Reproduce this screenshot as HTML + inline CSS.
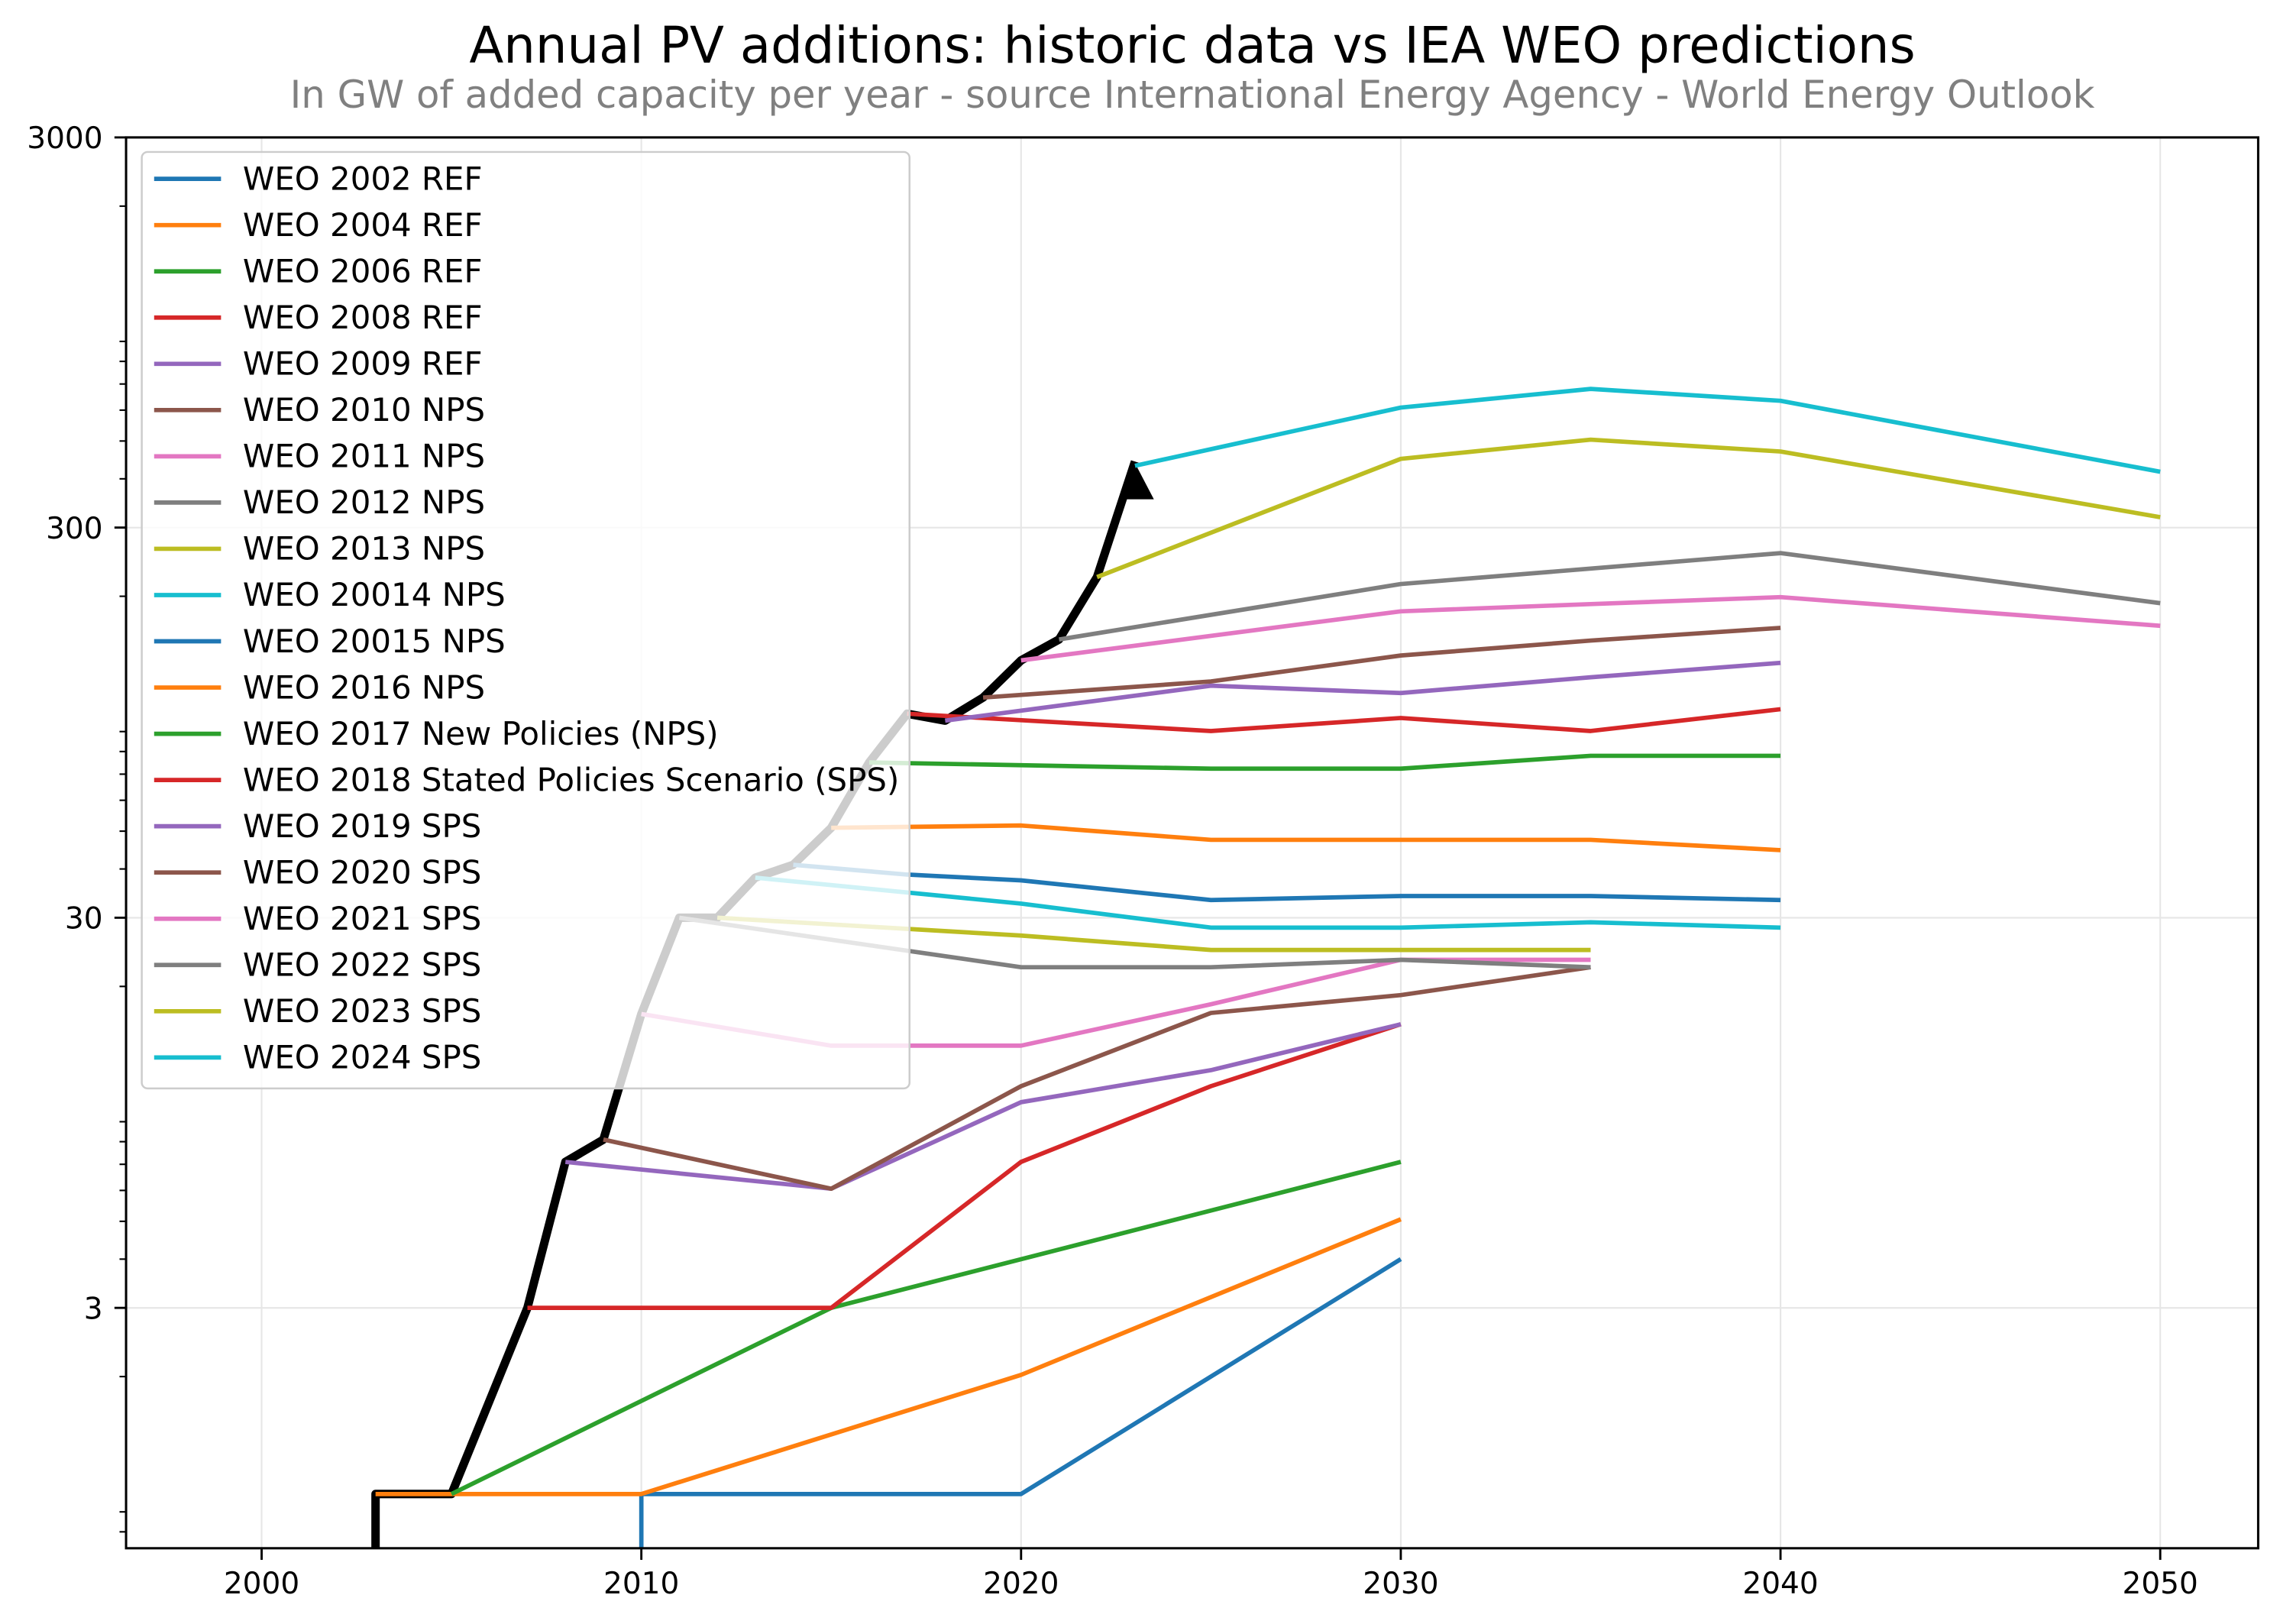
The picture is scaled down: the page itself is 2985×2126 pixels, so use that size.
<!DOCTYPE html>
<html><head><meta charset="utf-8"><style>
html,body{margin:0;padding:0;background:#fff;}
svg{display:block;font-family:"DejaVu Sans","Liberation Sans",sans-serif;}
</style></head><body>
<svg id="chart" width="2985" height="2126" viewBox="0 0 1568 1116.8" preserveAspectRatio="none" xmlns="http://www.w3.org/2000/svg">
<text x="820" y="43" text-anchor="middle" font-size="34.5" fill="#000">Annual PV additions: historic data vs IEA WEO predictions</text>
<text x="820" y="74" text-anchor="middle" font-size="26.1" fill="#808080">In GW of added capacity per year - source International Energy Agency - World Energy Outlook</text>
<g id="grid"></g><g id="series"></g><g id="legend"></g><g id="axes"></g>
</svg>
<script>
const NS="http://www.w3.org/2000/svg";
const tickYears=[2000,2010,2020,2030,2040,2050];
const tickValues=[3,30,300,3000];
const tickLabels=["3","30","300","3000"];
const historicYears=[2003,2003,2005,2007,2008,2009,2010,2011,2012,2013,2014,2015,2016,2017,2018,2019,2020,2021,2022,2023];
const historicValues=[0.7,1.0,1.0,3,7.1,8.1,17,30,30,38,41,51,75,100,96,110,137,155,224,443];
const seriesNames=["WEO 2002 REF","WEO 2004 REF","WEO 2006 REF","WEO 2008 REF","WEO 2009 REF","WEO 2010 NPS","WEO 2011 NPS","WEO 2012 NPS","WEO 2013 NPS","WEO 20014 NPS","WEO 20015 NPS","WEO 2016 NPS","WEO 2017 New Policies (NPS)","WEO 2018 Stated Policies Scenario (SPS)","WEO 2019 SPS","WEO 2020 SPS","WEO 2021 SPS","WEO 2022 SPS","WEO 2023 SPS","WEO 2024 SPS"];
const seriesYears=[
[2010,2010,2020,2030],
[2003,2010,2020,2030],
[2005,2015,2030],
[2007,2015,2020,2025,2030],
[2008,2015,2020,2025,2030],
[2009,2015,2020,2025,2030,2035],
[2010,2015,2020,2025,2030,2035],
[2011,2020,2025,2030,2035],
[2012,2020,2025,2030,2035],
[2013,2020,2025,2030,2035,2040],
[2014,2017,2020,2025,2030,2035,2040],
[2015,2020,2025,2030,2035,2040],
[2016,2025,2030,2035,2040],
[2017,2025,2030,2035,2040],
[2018,2025,2030,2035,2040],
[2019,2025,2030,2035,2040],
[2020,2030,2035,2040,2050],
[2021,2030,2040,2050],
[2022,2030,2035,2040,2050],
[2023,2030,2035,2040,2050]];
const seriesValues=[
[0.7,1,1,4.0],
[1,1,2.02,5.06],
[1,3,7.1],
[3,3,7.1,11.1,16],
[7.1,6.06,10.1,12.2,16],
[8.1,6.06,11.1,17.1,19,22.4],
[17,14.1,14.1,18,23.4,23.4],
[30,22.4,22.4,23.4,22.4],
[30,27,24.8,24.8,24.8],
[38,32.6,28.3,28.3,29.2,28.3],
[41,38.7,37.4,33.3,34.1,34.1,33.3],
[51,51.7,47.5,47.5,47.5,44.7],
[75,72.3,72.3,78,78],
[100,90.3,97.5,90.3,102.7],
[96,118,113,124,135],
[110,121,141,154,166],
[137,183,191,199,168],
[155,215,258,192],
[224,450,504,470,319],
[432,609,680,634,417]];
const minorMults=[2,4,5,6,7,8,9];
const colors=["#1f77b4","#ff7f0e","#2ca02c","#d62728","#9467bd","#8c564b","#e377c2","#7f7f7f","#bcbd22","#17becf"];
const L=86.7,R=1553,T=94.5,B=1064.7;
const x0=1996.43,x1=2052.58,yMax=3000,yMin=3000*Math.pow(10,-(B-T)/268.3);
function X(yr){return L+(yr-x0)/(x1-x0)*(R-L);}
function Y(v){v=Math.max(v,yMin);return T+(Math.log10(yMax)-Math.log10(v))/(Math.log10(yMax)-Math.log10(yMin))*(B-T);}
function el(tag,attrs,parent){const e=document.createElementNS(NS,tag);for(const k in attrs)e.setAttribute(k,attrs[k]);parent.appendChild(e);return e;}
const grid=document.getElementById('grid'),ser=document.getElementById('series'),leg=document.getElementById('legend'),ax=document.getElementById('axes');
const defs=el('defs',{},document.getElementById('chart'));
const cp=el('clipPath',{id:'plotclip'},defs);el('rect',{x:L,y:T,width:R-L,height:B-T},cp);
ser.setAttribute('clip-path','url(#plotclip)');
tickYears.forEach(t=>{const g=el('line',{x1:X(t),x2:X(t),y1:T,y2:B,stroke:'#e6e6e6','stroke-width':1.1},grid);

});
tickValues.forEach(v=>{const g=el('line',{x1:L,x2:R,y1:Y(v),y2:Y(v),stroke:'#e6e6e6','stroke-width':1.1},grid);

});
const hp=historicYears.map((y,i)=>X(y).toFixed(2)+','+Y(historicValues[i]).toFixed(2)).join(' ');
const hl=el('polyline',{points:hp,fill:'none',stroke:'#000','stroke-width':5.8,'stroke-linejoin':'round'},ser);


const hn=historicYears.length-1,ax2=X(historicYears[hn]),ay2=Y(historicValues[hn]);
const arrow=el('polygon',{points:`${ax2+1},${ay2+3} ${ax2-10},${ay2+26} ${ax2+13},${ay2+26}`,fill:'#000'},ser);


seriesYears.forEach((ys,i)=>{
const pts=ys.map((y,j)=>X(y).toFixed(2)+','+Y(seriesValues[i][j]).toFixed(2)).join(' ');
const p=el('polyline',{points:pts,fill:'none',stroke:colors[i%10],'stroke-width':3,'stroke-linejoin':'round'},ser);


});
const box=el('rect',{x:97.5,y:104.5,width:528,height:644,rx:4,fill:'#fff','fill-opacity':0.8,stroke:'#cccccc','stroke-width':1.3},leg);


seriesNames.forEach((n,i)=>{
const cy=123+i*31.8;
const g=el('g',{},leg);


el('line',{x1:106,x2:152,y1:cy,y2:cy,stroke:colors[i%10],'stroke-width':3},g);
const t=el('text',{x:167,y:cy+7.5,'font-size':'22',fill:'#000'},g);t.textContent=n;
});
const fr=el('rect',{x:L,y:T,width:R-L,height:B-T,fill:'none',stroke:'#000','stroke-width':1.6},ax);


tickYears.forEach((t,i)=>{
el('line',{x1:X(t),x2:X(t),y1:B,y2:B+8,stroke:'#000','stroke-width':1.5},ax);
const tx=el('text',{x:X(t),y:B+31,'text-anchor':'middle','font-size':'20.5',fill:'#000'},ax);


tx.textContent=String(t);
});
for(let d=-1;d<=3;d++){minorMults.forEach(m=>{const v=m*Math.pow(10,d);if(v<yMin||v>yMax)return;
el('line',{x1:L-4.5,x2:L,y1:Y(v),y2:Y(v),stroke:'#000','stroke-width':1.1},ax);});}
tickValues.forEach((v,i)=>{
el('line',{x1:L-8,x2:L,y1:Y(v),y2:Y(v),stroke:'#000','stroke-width':1.5},ax);
const tx=el('text',{x:L-16,y:Y(v)+7.5,'text-anchor':'end','font-size':'20.5',fill:'#000'},ax);


tx.textContent=tickLabels[i];
});
</script>
</body></html>
